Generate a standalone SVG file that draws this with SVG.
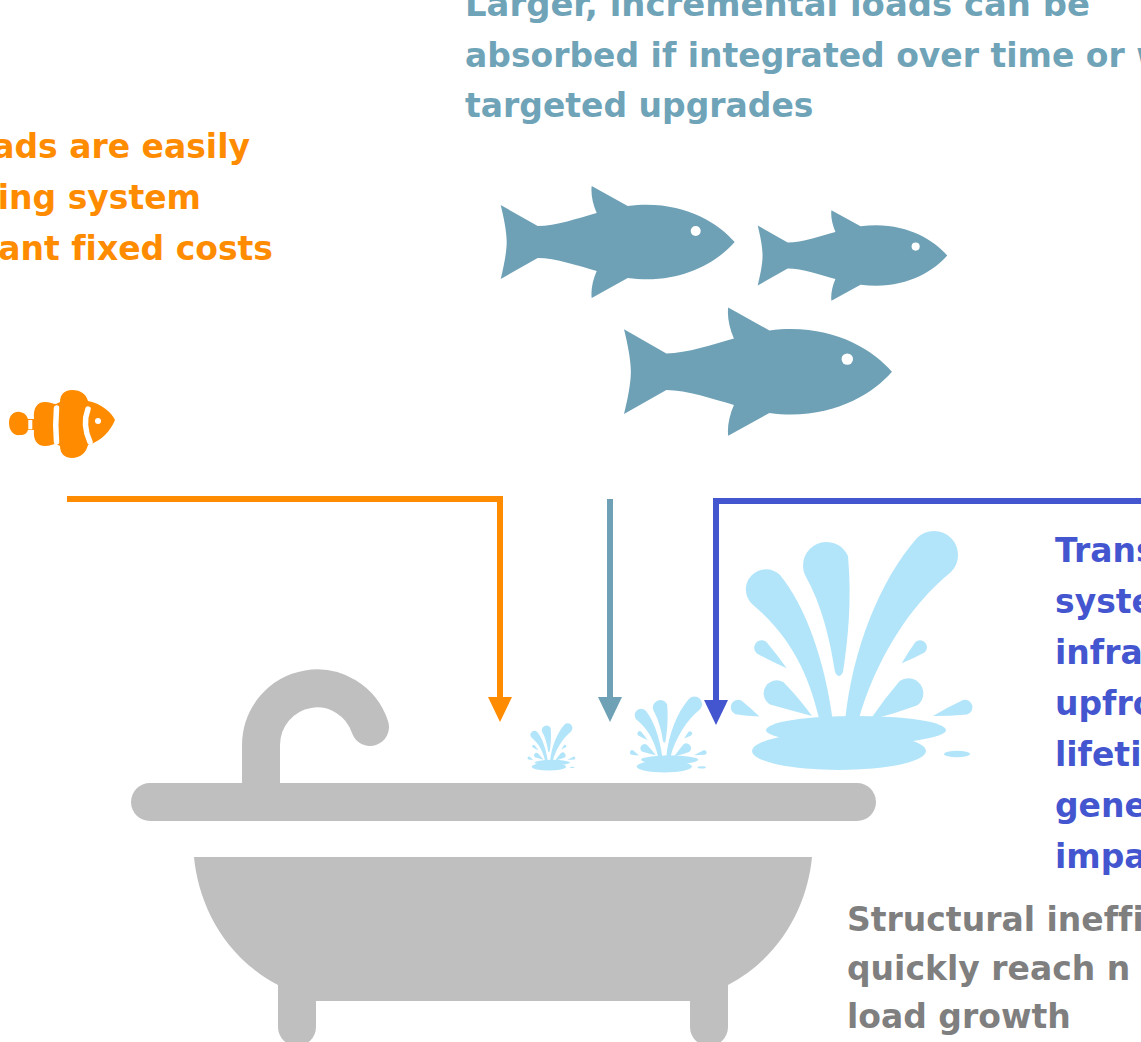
<svg xmlns="http://www.w3.org/2000/svg" xmlns:xlink="http://www.w3.org/1999/xlink" width="1141" height="1042" viewBox="0 0 1141 1042">
  <style>
    .lbl { font-family: "DejaVu Sans", "Liberation Sans", sans-serif; font-weight: 700; font-size: 33px; font-variant-ligatures: none; }
    .t-orange { fill: #FF8C00; }
    .t-steel { fill: #6FA3B8; }
    .t-indigo { fill: #4456CF; }
    .t-grey { fill: #7F7F7F; }
    .fish { fill: #6EA1B6; }
    .eye { fill: #FFFFFF; }
    .water { fill: #B3E5FA; }
    .tub { fill: #BFBFBF; }
    .wire { fill: none; stroke-width: 6; }
  </style>
  <defs>
    <!-- generic fish silhouette: tail tip at origin, nose at +234 -->
    <path id="fish-shape" d="M0,-37 L37,-16 C55,-16 78,-24 96,-29 C92,-38 90,-48 91,-56 L127,-36 C178,-43 216,-21 234,0 C216,21 178,43 127,36 L91,56 C90,48 92,38 96,29 C78,24 55,16 37,16 L0,37 C3,25 6,10 6,0 C6,-10 3,-25 0,-37 Z"/>
    <!-- water splash icon, drawn at full size -->
    <g id="splash-icon" class="water">
      <ellipse cx="839" cy="751" rx="87" ry="19"/>
      <ellipse cx="856" cy="730" rx="90" ry="14"/>
      <ellipse cx="957" cy="754" rx="13" ry="3.3"/>
      <path d="M820,722 C810,680 795,640 752,604 A20,20 0 1 1 780,575 C805,605 825,660 833,722 Z"/>
      <path d="M805,575 A23,23 0 1 1 848,556 C852,600 848,640 843,672 Q839,680 835,672 C830,640 822,605 805,575 Z"/>
      <path d="M845,722 C852,650 880,580 917,538 A24,24 0 1 1 951,572 C910,605 875,660 858,722 Z"/>
      <path d="M756.9,653.5 A7.5,7.5 0 0 1 755.9,642.9 A7.5,7.5 0 0 1 766.5,641.9 Q777.1,654.5 786.7,668.3 Q771.3,661.5 756.9,653.5 Z"/>
      <path d="M770.1,704.5 A13,13 0 0 1 765.5,686.7 A13,13 0 0 1 783.3,682.1 Q797.8,696.7 812,716 Q789.9,710.1 770.1,704.5 Z"/>
      <path d="M735.3,714.2 A7.5,7.5 0 0 1 731.4,704.3 A7.5,7.5 0 0 1 741.3,700.4 Q750.7,707.8 759.5,716.5 Q747.1,716 735.3,714.2 Z"/>
      <path d="M915.4,642 A7,7 0 0 1 925.3,642.7 A7,7 0 0 1 924.6,652.6 Q913.6,658.5 901.7,663.3 Q908.1,652.1 915.4,642 Z"/>
      <path d="M899.7,681 A15,15 0 0 1 920.6,684.7 A15,15 0 0 1 916.9,705.6 Q894.3,714 870,720 Q884,699.3 899.7,681 Z"/>
      <path d="M963,700.1 A7.5,7.5 0 0 1 972.2,705.3 A7.5,7.5 0 0 1 967,714.5 Q950.2,716 933,716 Q947.8,707.3 963,700.1 Z"/>
    </g>
    <marker id="head-orange" markerUnits="userSpaceOnUse" markerWidth="25" markerHeight="24" refX="0" refY="12" orient="auto">
      <path d="M0,0 L25,12 L0,24 Z" fill="#FF8C00"/>
    </marker>
    <marker id="head-steel" markerUnits="userSpaceOnUse" markerWidth="25" markerHeight="24" refX="0" refY="12" orient="auto">
      <path d="M0,0 L25,12 L0,24 Z" fill="#6EA1B6"/>
    </marker>
    <marker id="head-indigo" markerUnits="userSpaceOnUse" markerWidth="25" markerHeight="24" refX="0" refY="12" orient="auto">
      <path d="M0,0 L25,12 L0,24 Z" fill="#4456CF"/>
    </marker>
  </defs>

  <rect width="1141" height="1042" fill="#FFFFFF"/>

  <!-- captions -->
  <g id="label-small-loads" class="lbl t-orange" text-anchor="end">
    <text x="250" y="158">ads are easily</text>
    <text x="201" y="209">ing system</text>
    <text x="273" y="260">ant fixed costs</text>
  </g>
  <g id="label-larger-loads" class="lbl t-steel">
    <text x="465" y="16" textLength="625" lengthAdjust="spacingAndGlyphs">Larger, incremental loads can be</text>
    <text x="465" y="66.5">absorbed if integrated over time or w</text>
    <text x="465" y="117">targeted upgrades</text>
  </g>
  <g id="label-transformational" class="lbl t-indigo">
    <text x="1055" y="562">Trans</text>
    <text x="1055" y="613">syste</text>
    <text x="1055" y="664">infra</text>
    <text x="1055" y="715">upfro</text>
    <text x="1055" y="766">lifeti</text>
    <text x="1055" y="817">gene</text>
    <text x="1055" y="868">impa</text>
  </g>
  <g id="label-structural" class="lbl t-grey">
    <text x="847" y="931">Structural ineffi</text>
    <text x="847" y="980">quickly reach n</text>
    <text x="847" y="1028">load growth</text>
  </g>

  <!-- small load: clownfish -->
  <g id="clownfish">
    <path fill="#FF8C00" d="M9,423 C9,415 14,411 20,412 C25,413 27,416 28,419 L34,419 C33,408 37,402 45,402 C50,402 53,404 56,404 L60,402 C60,394 65,390 72,390 C81,390 86,394 88,401 C102,404 111,412 115,420 C111,430 102,441 88,445 C86,453 80,458 72,458 C65,458 60,454 60,446 L56,444 C53,444 50,446 45,446 C37,446 33,440 34,430 L28,430 C27,433 25,435 20,435 C14,436 9,431 9,423 Z"/>
    <rect x="28.3" y="420" width="4" height="9.3" fill="#FFFFFF"/>
    <path d="M56.5,408 Q55,425 56.5,442" fill="none" stroke="#FFFFFF" stroke-width="5.5" stroke-linecap="round"/>
    <path d="M88,409 Q82,425 90,442" fill="none" stroke="#FFFFFF" stroke-width="5.5" stroke-linecap="round"/>
    <circle cx="98" cy="421" r="3" fill="#FFFFFF"/>
  </g>

  <!-- larger loads: school of fish -->
  <g id="fish-school">
    <g id="fish-1" transform="translate(500.7,242)">
      <use xlink:href="#fish-shape" class="fish"/>
      <circle class="eye" cx="195" cy="-11" r="5"/>
    </g>
    <g id="fish-2" transform="translate(757.7,255.5) scale(0.81)">
      <use xlink:href="#fish-shape" class="fish"/>
      <circle class="eye" cx="195" cy="-11" r="5"/>
    </g>
    <g id="fish-3" transform="translate(624,371.7) scale(1.145)">
      <use xlink:href="#fish-shape" class="fish"/>
      <circle class="eye" cx="195" cy="-11" r="5"/>
    </g>
  </g>

  <!-- bathtub -->
  <g id="bathtub" class="tub">
    <path id="faucet" d="M261,792 V745 A56,57 0 0 1 370,727" fill="none" stroke="#BFBFBF" stroke-width="38" stroke-linecap="round"/>
    <rect id="rim" x="131" y="783" width="745" height="38" rx="19"/>
    <path id="basin" d="M194,857 H812 C808,900 785,955 728,985 V1027 A19,19 0 0 1 690,1027 V1001 H316 V1027 A19,19 0 0 1 278,1027 V985 C221,955 198,900 194,857 Z"/>
  </g>

  <!-- splashes -->
  <g id="splash-small">
    <use xlink:href="#splash-icon" transform="translate(383.3,618.5) scale(0.1974)"/>
  </g>
  <g id="splash-medium">
    <use xlink:href="#splash-icon" transform="translate(397.9,528) scale(0.3175)"/>
  </g>
  <g id="splash-large">
    <use xlink:href="#splash-icon"/>
  </g>

  <!-- connectors -->
  <g id="connectors" class="wire">
    <path d="M67,499 H500 V697" stroke="#FF8C00" marker-end="url(#head-orange)"/>
    <path d="M610,499 V697" stroke="#6EA1B6" marker-end="url(#head-steel)"/>
    <path d="M1146,501 H716 V700" stroke="#4456CF" marker-end="url(#head-indigo)"/>
  </g>
</svg>
